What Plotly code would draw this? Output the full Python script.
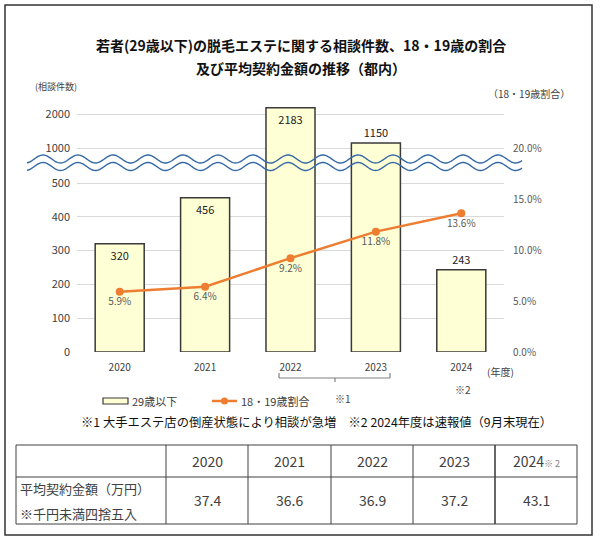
import numpy as np
import plotly.graph_objects as go

# ---------------- data ----------------
years = ["2020", "2021", "2022", "2023", "2024"]
counts = [320, 456, 2183, 1150, 243]
share_pct = [5.9, 6.4, 9.2, 11.8, 13.6]
share_labels = ["5.9%", "6.4%", "9.2%", "11.8%", "13.6%"]
low_ticks = [0, 100, 200, 300, 400, 500]
high_ticks = [1000, 2000]
pct_ticks = [0, 5, 10, 15, 20]
pct_ticktext = ["0.0%", "5.0%", "10.0%", "15.0%", "20.0%"]
table_header = ["2020", "2021", "2022", "2023", "2024"]
avg_contract = ["37.4", "36.6", "36.9", "37.2", "43.1"]

# ---------------- layout helpers (pixel -> paper) ----------------
W, H = 600, 541
L, R, T, B = 77, 504, 100, 352
def fx(px):
    return (px - L) / (R - L)
def fy(py):
    return (B - py) / (B - T)

FONT = "Noto Sans CJK JP"
SEAM = fy(162)
low_top = (B - 162) / 0.338
high_bot = 1000 - (162 - 148) / 0.034
high_top = 2000 + (114 - T) / 0.034
pct_top = (B - T) / 10.2

BAR_FILL = "#FFFFD5"
BAR_LINE = "#3A3A3A"
ORANGE = "#ED7D31"

fig = go.Figure()

low_text = [str(v) if v <= 500 else "" for v in counts]
low_pos = ["inside", "inside", "inside", "inside", "outside"]
high_text = [str(v) if v > 500 else "" for v in counts]
high_pos = ["inside", "inside", "inside", "outside", "inside"]

common = dict(
    x=years, y=counts, width=0.574,
    marker=dict(color=BAR_FILL, line=dict(color=BAR_LINE, width=1.5)),
    textangle=0, constraintext="none", insidetextanchor="end",
    textfont=dict(family=FONT, size=11, color="#222222"),
    outsidetextfont=dict(family=FONT, size=11, color="#222222"),
    showlegend=False, hoverinfo="skip",
)
fig.add_trace(go.Bar(yaxis="y", text=low_text, textposition=low_pos, **common))
fig.add_trace(go.Bar(yaxis="y2", text=high_text, textposition=high_pos, **common))

fig.add_trace(go.Scatter(
    x=years, y=share_pct, yaxis="y3", mode="lines+markers+text",
    text=share_labels, textposition="bottom center",
    textfont=dict(family=FONT, size=10, color="#595959"),
    line=dict(color=ORANGE, width=2.5), marker=dict(color=ORANGE, size=8),
    showlegend=False, hoverinfo="skip", cliponaxis=False,
))

axfont = dict(family=FONT, size=11, color="#404040")
fig.update_layout(
    width=W, height=H,
    margin=dict(l=L, r=W - R, t=T, b=H - B),
    paper_bgcolor="white", plot_bgcolor="rgba(0,0,0,0)",
    font=dict(family=FONT),
    bargap=0.426,
    xaxis=dict(domain=[0, 1], type="category", range=[-0.5, 4.5], anchor="y",
               showgrid=False, showline=False, zeroline=False, ticks="",
               tickfont=dict(family=FONT, size=10, color="#404040"),
               ticklabelstandoff=8),
    yaxis=dict(domain=[0, SEAM], range=[0, low_top], anchor="x",
               tickvals=low_ticks, gridcolor="#D9D9D9", gridwidth=1,
               zeroline=False, showline=False, ticks="", tickfont=axfont,
               ticklabelstandoff=6),
    yaxis2=dict(domain=[SEAM, 1], range=[high_bot, high_top], anchor="x",
                tickvals=high_ticks, gridcolor="#D9D9D9", gridwidth=1,
                zeroline=False, showline=False, ticks="", tickfont=axfont,
                ticklabelstandoff=6),
    yaxis3=dict(domain=[0, 1], range=[0, pct_top], anchor="x", side="right",
                tickvals=pct_ticks, ticktext=pct_ticktext, showgrid=False,
                zeroline=False, showline=False, ticks="",
                tickfont=dict(family=FONT, size=10, color="#595959"),
                ticklabelstandoff=8),
)

shapes = []
anns = []

# outer frame
shapes.append(dict(type="rect", xref="paper", yref="paper",
                   x0=fx(5), x1=fx(592), y0=fy(5), y1=fy(535),
                   line=dict(color="#333333", width=1.5), layer="below"))

# wavy break lines (decoration)
xs = np.linspace(27, 522, 400)
for yc in (159, 166.5):
    ys = yc - 4 * np.cos(2 * np.pi * (xs - 43) / 35)
    path = "M " + " L ".join(f"{fx(a):.5f},{fy(b):.5f}" for a, b in zip(xs, ys))
    shapes.append(dict(type="path", xref="paper", yref="paper", path=path,
                       line=dict(color="#3469A6", width=1.4), layer="above"))

# bracket under 2022-2023
gray = "#808080"
for (x0, y0, x1, y1) in [(279, 373, 279, 378), (390, 373, 390, 378),
                         (279, 378, 390, 378), (335, 378, 335, 382)]:
    shapes.append(dict(type="line", xref="paper", yref="paper",
                       x0=fx(x0), y0=fy(y0), x1=fx(x1), y1=fy(y1),
                       line=dict(color=gray, width=1.2)))

def text(x, y, s, size=11, color="#222222", xanchor="center", bold=False):
    anns.append(dict(xref="paper", yref="paper", x=fx(x), y=fy(y), text=s,
                     showarrow=False, xanchor=xanchor, yanchor="middle",
                     font=dict(family=FONT, size=size, color=color,
                               weight="bold" if bold else "normal")))

# titles
text(301, 45, "若者(29歳以下)の脱毛エステに関する相談件数、18・19歳の割合", 14, "#111111", bold=True)
text(301, 68, "及び平均契約金額の推移（都内）", 14, "#111111", bold=True)
text(56, 86, "(相談件数)", 9, "#404040")
text(529, 93, "（18・19歳割合）", 10, "#404040")
text(500, 371, "(年度)", 10, "#404040")
text(343, 398, "※1", 10, "#404040")
text(463, 389, "※2", 10, "#404040")

# manual legend
shapes.append(dict(type="rect", xref="paper", yref="paper",
                   x0=fx(103), x1=fx(128), y0=fy(398), y1=fy(404),
                   fillcolor=BAR_FILL, line=dict(color=BAR_LINE, width=1.2)))
text(130, 401, "29歳以下", 11, "#404040", xanchor="left")
shapes.append(dict(type="line", xref="paper", yref="paper",
                   x0=fx(212), x1=fx(237), y0=fy(401), y1=fy(401),
                   line=dict(color=ORANGE, width=2.5)))
shapes.append(dict(type="circle", xref="paper", yref="paper",
                   x0=fx(221), x1=fx(228), y0=fy(397.5), y1=fy(404.5),
                   fillcolor=ORANGE, line=dict(color=ORANGE, width=0)))
text(239, 401, "18・19歳割合", 11, "#404040", xanchor="left")

# footnote
text(316, 422, "※1 大手エステ店の倒産状態により相談が急増　※2 2024年度は速報値（9月末現在）", 12.3, "#111111")

# table
tx = [16, 166, 248, 331, 413, 495, 577]
ty = [445, 477, 524]
for yv in ty:
    shapes.append(dict(type="line", xref="paper", yref="paper",
                       x0=fx(tx[0]), x1=fx(tx[-1]), y0=fy(yv), y1=fy(yv),
                       line=dict(color="#404040", width=1)))
for i, xv in enumerate(tx):
    shapes.append(dict(type="line", xref="paper", yref="paper",
                       x0=fx(xv), x1=fx(xv), y0=fy(ty[0]), y1=fy(ty[-1]),
                       line=dict(color="#404040", width=1.6 if i == 5 else 1)))
for i, (h, v) in enumerate(zip(table_header, avg_contract)):
    cx = (tx[i + 1] + tx[i + 2]) / 2
    label = h if i < 4 else h + "<span style='font-size:9px;color:#808080'>※ 2</span>"
    text(cx, 461, label, 14, "#404040")
    text(cx, 500, v, 14, "#404040")
text(18, 489, "平均契約金額（万円）", 13, "#404040", xanchor="left")
text(18, 513, "※千円未満四捨五入", 13, "#404040", xanchor="left")

fig.update_layout(shapes=shapes, annotations=anns)
fig.write_html("out.html", config={"displayModeBar": False},
               post_script="document.body.style.margin='0';document.body.style.overflow='hidden';")
